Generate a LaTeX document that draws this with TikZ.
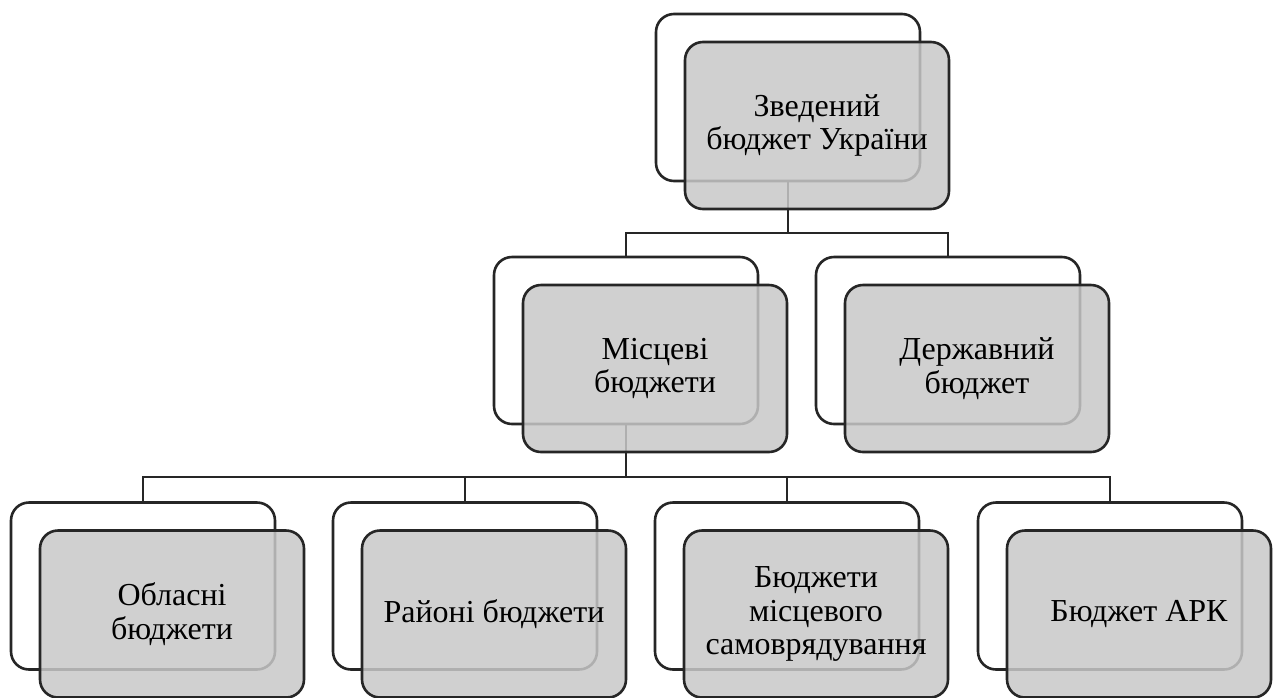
\documentclass[tikz,border=0pt]{standalone}
\usepackage{fontspec}
\setmainfont{Liberation Serif}
\newfontfamily\boxfont{Liberation Serif}
\definecolor{boxgray}{RGB}{200,200,200}
\tikzset{
  backbox/.style={draw=black!85, line width=2.6pt, rounded corners=18pt, fill=white,
    minimum width=264pt, minimum height=167pt, inner sep=0pt},
  frontbox/.style={draw=black!85, line width=2.6pt, rounded corners=18pt, fill=boxgray, fill opacity=0.85, text opacity=1,
    minimum width=264pt, minimum height=167pt, inner sep=0pt, align=center,
    font=\boxfont\fontsize{32}{33.5}\selectfont},
  conn/.style={draw=black!85, line width=2.6pt}
}
\begin{document}
\begin{tikzpicture}[x=1pt,y=-1pt]
\useasboundingbox (0,0) rectangle (1276,697);
% coordinates of back boxes
\coordinate (cTop) at (788,97.5);
\coordinate (cMis) at (626,340.5);
\coordinate (cDer) at (948,340.5);
\coordinate (cB1) at (143,586);
\coordinate (cB2) at (465,586);
\coordinate (cB3) at (787,586);
\coordinate (cB4) at (1110,586);
\coordinate (bus1) at (0,233);
\coordinate (bus2) at (0,477);
% back boxes
\node[backbox] (top0) at (cTop) {};
\node[backbox] (mis0) at (cMis) {};
\node[backbox] (der0) at (cDer) {};
\node[backbox] (b10) at (cB1) {};
\node[backbox] (b20) at (cB2) {};
\node[backbox] (b30) at (cB3) {};
\node[backbox] (b40) at (cB4) {};
% connectors
\draw[conn] (top0.south) -- (top0.south |- bus1);
\draw[conn] (mis0.north) -- (mis0.north |- bus1) -- (der0.north |- bus1) -- (der0.north);
\draw[conn] (mis0.south) -- (mis0.south |- bus2);
\draw[conn] (b10.north) -- (b10.north |- bus2) -- (b40.north |- bus2) -- (b40.north);
\draw[conn] (b20.north) -- (b20.north |- bus2);
\draw[conn] (b30.north) -- (b30.north |- bus2);
% front boxes
\node[frontbox] (top) at ([shift={(29,28)}]cTop) {Зведений\\бюджет України};
\node[frontbox] (mis) at ([shift={(29,28)}]cMis) {Місцеві\\бюджети};
\node[frontbox] (der) at ([shift={(29,28)}]cDer) {Державний\\бюджет};
\node[frontbox] (b1) at ([shift={(29,28)}]cB1) {Обласні\\бюджети};
\node[frontbox] (b2) at ([shift={(29,28)}]cB2) {Районі бюджети};
\node[frontbox] (b3) at ([shift={(29,28)}]cB3) {Бюджети\\місцевого\\самоврядування};
\node[frontbox] (b4) at ([shift={(29,28)}]cB4) {Бюджет АРК};
\end{tikzpicture}
\end{document}
